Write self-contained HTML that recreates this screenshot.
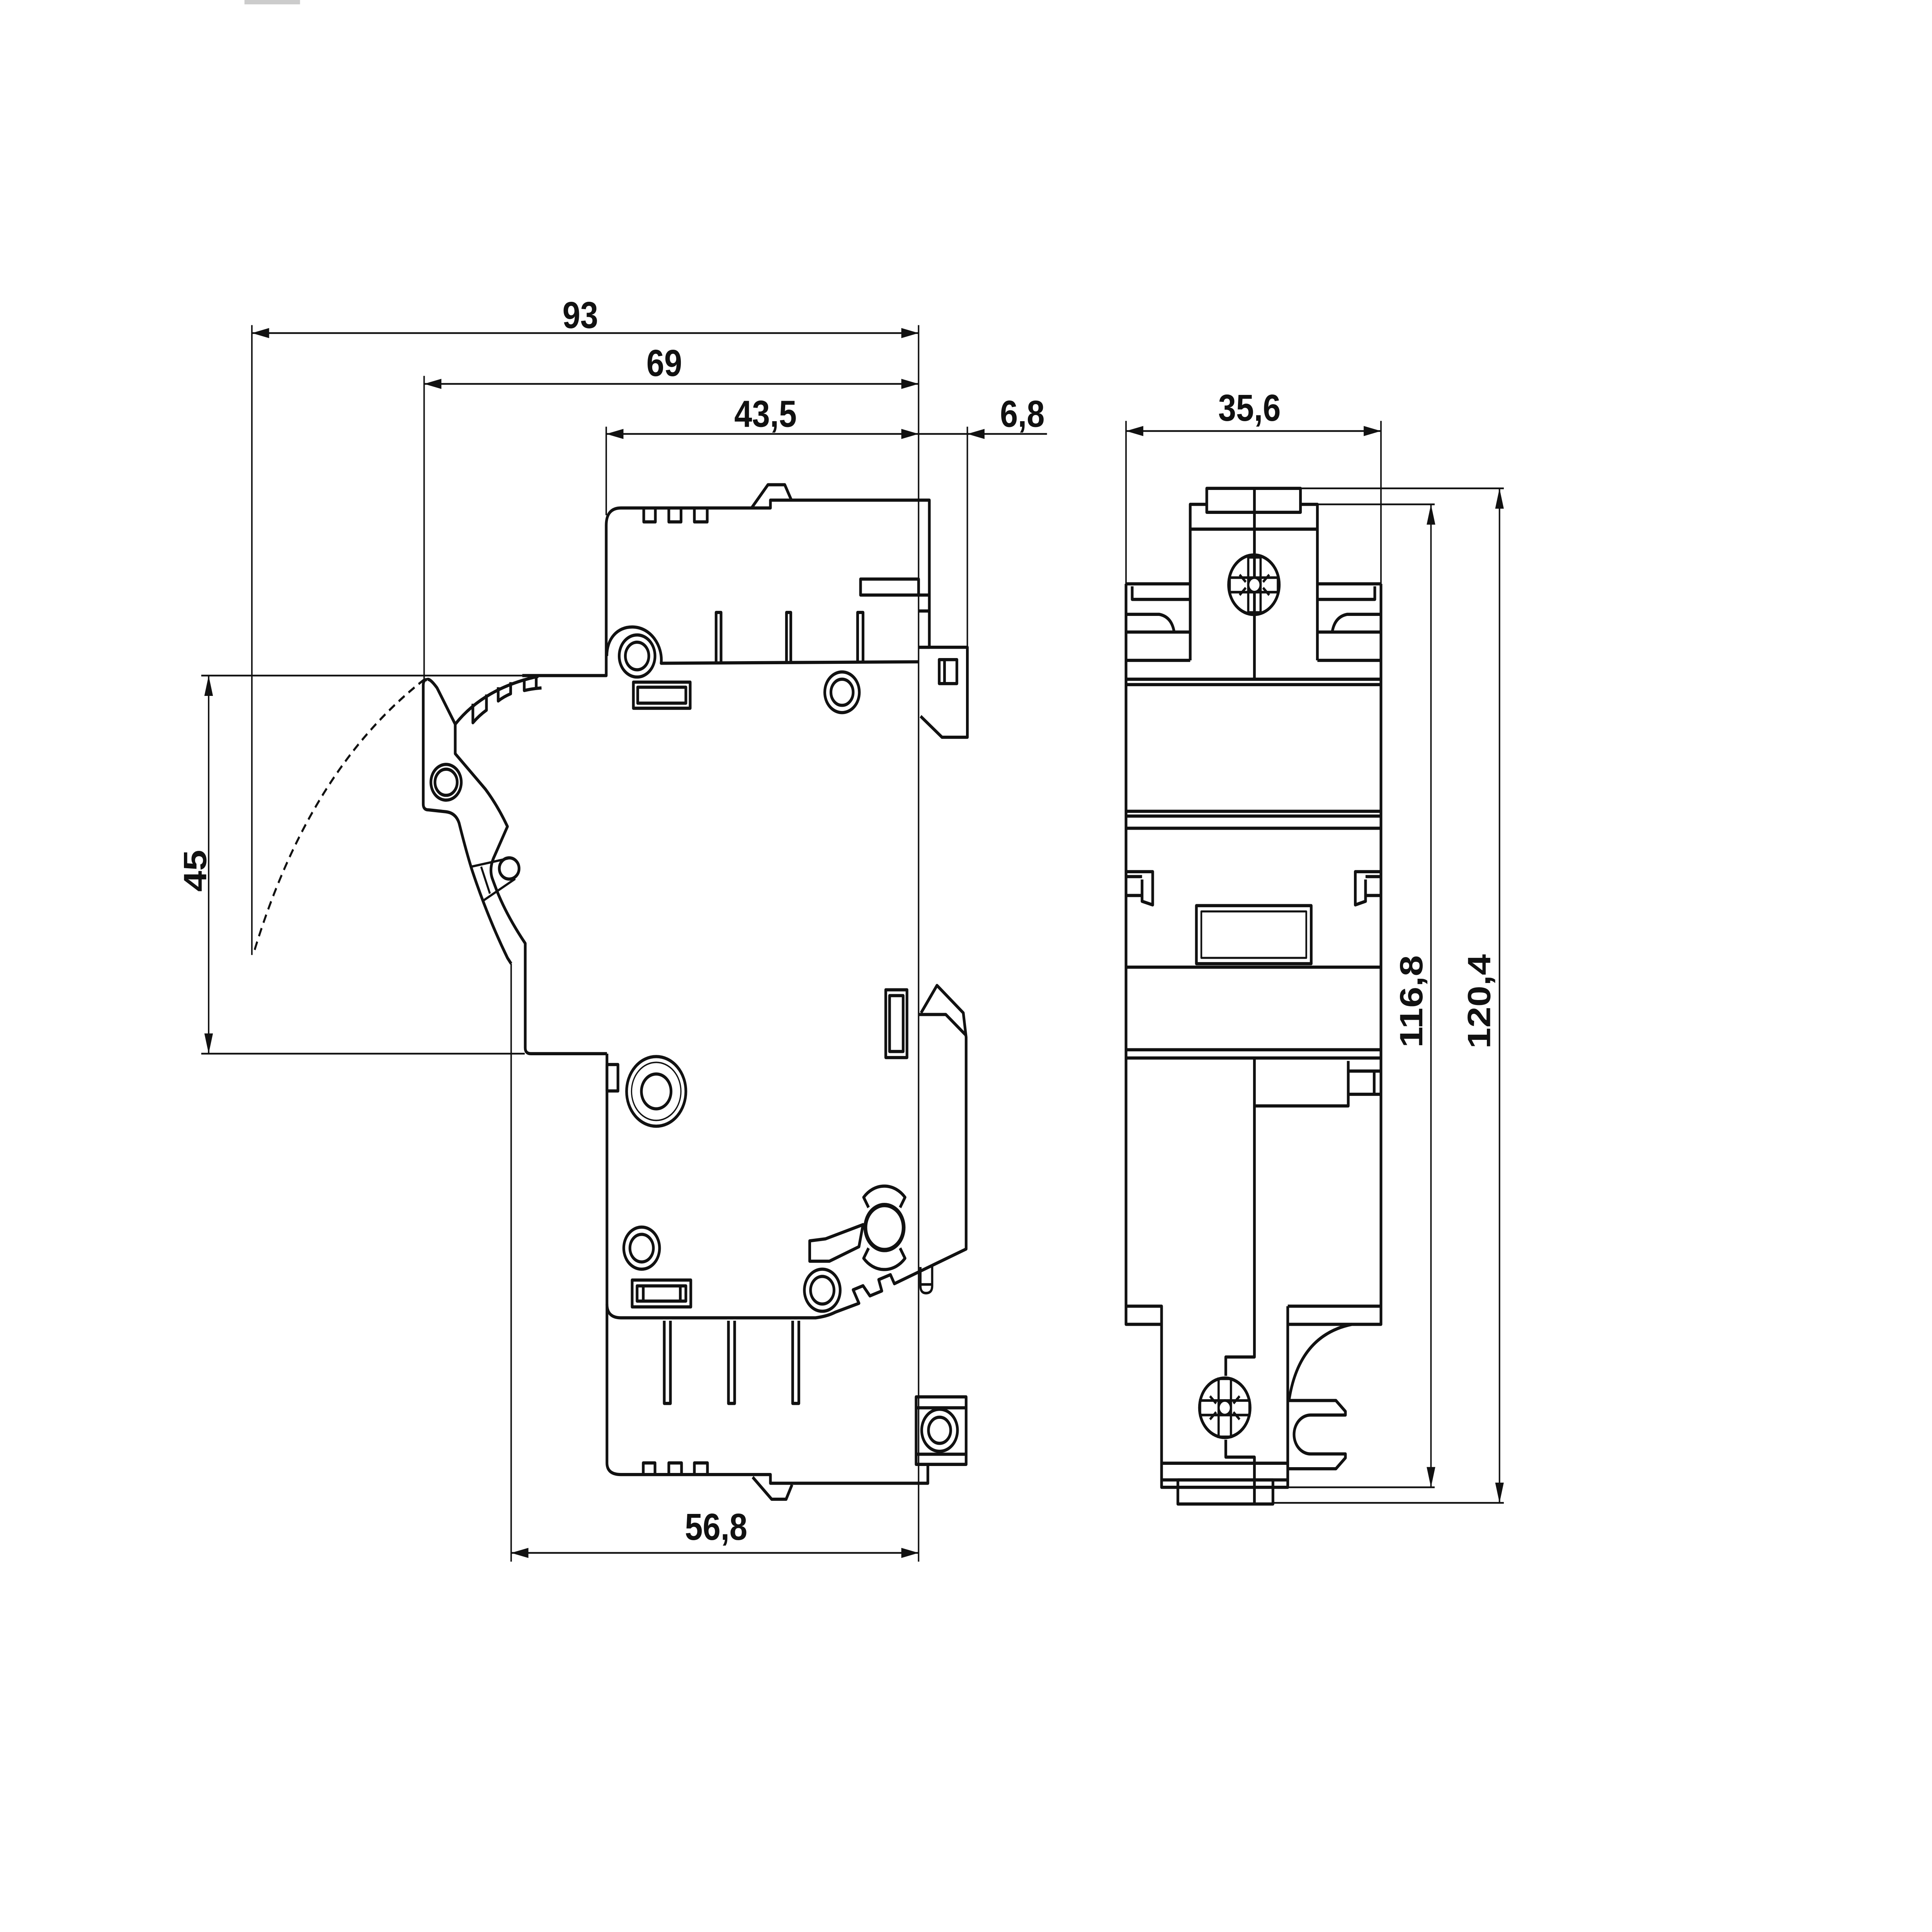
<!DOCTYPE html>
<html><head><meta charset="utf-8"><style>
html,body{margin:0;padding:0;background:#fff;width:100vw;height:100vh;overflow:hidden}
svg{display:block;width:100vw;height:100vh}
text{font-family:"Liberation Sans",sans-serif;font-weight:bold;font-size:26px;fill:#111}
</style></head><body>
<svg viewBox="0 0 1564.8 1331.2" preserveAspectRatio="none" xmlns="http://www.w3.org/2000/svg">
<defs>
<marker id="a" viewBox="0 0 14 7" refX="14" refY="3.5" markerWidth="14" markerHeight="7" markerUnits="userSpaceOnUse" orient="auto-start-reverse"><path d="M0,0 L14,3.5 L0,7 Z" fill="#111"/></marker>
</defs>
<rect x="198" y="0" width="45" height="3" fill="#ccc"/>
<g fill="none" stroke="#111" stroke-width="1.2">
<line x1="204" y1="229.5" x2="744" y2="229.5" marker-start="url(#a)" marker-end="url(#a)"/>
<line x1="343.5" y1="264.5" x2="744" y2="264.5" marker-start="url(#a)" marker-end="url(#a)"/>
<line x1="491" y1="299" x2="744" y2="299" marker-start="url(#a)" marker-end="url(#a)"/>
<line x1="744" y1="299" x2="785" y2="299"/>
<line x1="848" y1="299" x2="783.5" y2="299" marker-end="url(#a)"/>
<line x1="204" y1="224" x2="204" y2="658"/>
<line x1="343.5" y1="259" x2="343.5" y2="468"/>
<line x1="491" y1="294" x2="491" y2="355"/>
<line x1="744" y1="224" x2="744" y2="1076"/>
<line x1="783.5" y1="294" x2="783.5" y2="447"/>
<line x1="169" y1="465.5" x2="169" y2="726" marker-start="url(#a)" marker-end="url(#a)"/>
<line x1="163" y1="465.5" x2="423" y2="465.5"/>
<line x1="163" y1="726" x2="425" y2="726"/>
<line x1="414" y1="1076" x2="414" y2="664"/>
<line x1="414" y1="1070" x2="744" y2="1070" marker-start="url(#a)" marker-end="url(#a)"/>
<path d="M344,468 Q250,530 205,658" stroke-width="1.6" stroke-dasharray="6,4"/>
<line x1="912" y1="297" x2="1118.5" y2="297" marker-start="url(#a)" marker-end="url(#a)"/>
<line x1="912" y1="290" x2="912" y2="404"/>
<line x1="1118.5" y1="290" x2="1118.5" y2="404"/>
<line x1="1053" y1="336.5" x2="1218" y2="336.5"/>
<line x1="1067" y1="347.5" x2="1162" y2="347.5"/>
<line x1="1043" y1="1024.8" x2="1162" y2="1024.8"/>
<line x1="1031" y1="1035.5" x2="1218" y2="1035.5"/>
<line x1="1159" y1="347.5" x2="1159" y2="1024.8" marker-start="url(#a)" marker-end="url(#a)"/>
<line x1="1214.5" y1="336.5" x2="1214.5" y2="1035.5" marker-start="url(#a)" marker-end="url(#a)"/>
</g>
<g font-size="26">
<text x="470" y="226" text-anchor="middle">93</text>
<text x="538" y="259" text-anchor="middle">69</text>
<text x="620" y="294" text-anchor="middle">43,5</text>
<text x="828" y="294" text-anchor="middle">6,8</text>
<text x="580" y="1061" text-anchor="middle">56,8</text>
<text x="1012" y="290" text-anchor="middle">35,6</text>
<text transform="translate(167,600) rotate(-90)" text-anchor="middle">45</text>
<text transform="translate(1152,690) rotate(-90)" text-anchor="middle">116,8</text>
<text transform="translate(1207,690) rotate(-90)" text-anchor="middle">120,4</text>
</g>
<g fill="none" stroke="#111" stroke-width="2.2" stroke-linejoin="round">
<path d="M423,465.5 L491,465.5 L491,362 Q491,350 503,350 L624,350 L624,344.6 L752.7,344.6 L752.7,446 L744,446"/>
<path d="M608.7,350 L622,334 L635.6,334 L641,344.6"/>
<path d="M521.4,350 V359.6 H530.8 V350 M541.7,350 V359.6 H551.6 V350 M562.4,350 V359.6 H572.8 V350"/>
<path d="M697,399 H744 V410 H697 Z M744,410 H752.7 M744,421 H752.7"/>
<path d="M580,456 V422 H584 V456 M637,456 V422 H640.5 V456 M694.6,456 V422 H699 V456"/>
<path d="M491.5,452 C491.5,440 500,432 512,432 C527,432 537,445 535.5,457 L744,456"/>
<circle cx="516" cy="452" r="14.5"/><circle cx="516" cy="452" r="9.5"/>
<path d="M744,446 L783.5,446 L783.5,508 L763,508 L745.6,493.5"/>
<rect x="760.7" y="454.5" width="14.3" height="16.5"/><line x1="765" y1="454.5" x2="765" y2="471"/>
<rect x="513" y="470" width="46" height="18"/><rect x="516.5" y="473.5" width="39" height="11"/>
<circle cx="682" cy="477" r="14"/><circle cx="682" cy="477" r="9"/>
<path d="M368.7,499 Q392,474 436,466"/>
<path d="M383,484.9 V498 Q388,493 394,489.3 V478.5 M403.5,473.5 V483 Q408,480 413.6,478 V470 M424.6,467.5 V475.8 Q431,474.5 438.6,474 M434.3,466 V474"/>
<path d="M345.9,468.3 Q343,468 342.8,472 L342.8,554 Q342.8,558 347,558 L361,559.3 Q369,560 371.8,567 Q378,588 382.5,600 Q395,632 411,660 L414,664"/>
<path d="M345.9,468.3 Q348,467 354,474 L368.7,499 L368.7,519.3 L393,543.6 Q403,555 411,569.5 L400.4,590 Q396,598 398.6,605 Q402,613 404,617 Q412,633 425.4,650 L425.4,722 Q425.4,726 430,726 L491.6,726"/>
<circle cx="361.3" cy="539" r="12.3"/><circle cx="361.3" cy="539" r="9"/>
<ellipse cx="412.4" cy="598.4" rx="8" ry="7.3"/>
<path d="M381.6,597.2 L412,591.4 M391,620.8 L417.3,605.5 M389.7,597.2 L396.8,615.7" stroke-width="1.6"/>
<path d="M491.6,726 L491.6,1008 Q491.6,1016 503,1016 L624,1016 L624,1022 L751.5,1022 L751.5,1009"/>
<rect x="491.6" y="733.5" width="8.9" height="18.2"/>
<circle cx="531.5" cy="752" r="24"/><circle cx="531.5" cy="752" r="20" stroke-width="1"/><circle cx="531.5" cy="752" r="12"/>
<path d="M491.6,898.5 Q491.6,908 502.8,908 L660.6,908 Q670,907 676.6,904.1 L695.7,898 L691,888.7 L699,885.9 L704.6,892.9 L714.2,889.5 L711.7,881.7 L721.2,878.3 L724.4,884.5 L782.5,860.6 L782.5,714.7 L780.2,697.9 L758.9,679 L746,697.9"/>
<path d="M744,699 L766,699 L782,713"/>
<path d="M745.5,873 V886 Q745.5,891 750,891 Q755,891 755,886 V872 M745.5,885 H755" stroke-width="1.8"/>
<rect x="717.4" y="682" width="17.2" height="46.7"/><rect x="720.5" y="686" width="11" height="38.5"/>
<circle cx="519.7" cy="860" r="14.5"/><circle cx="519.7" cy="860" r="9.5"/>
<rect x="512" y="882" width="47.5" height="18.5"/><rect x="516" y="886" width="39.5" height="10.5"/>
<line x1="521" y1="886" x2="521" y2="896.5"/><line x1="551" y1="886" x2="551" y2="896.5"/>
<circle cx="666" cy="889" r="14.5"/><circle cx="666" cy="889" r="9.5"/>
<circle cx="716.4" cy="845.8" r="15.5" stroke-width="3"/>
<path d="M703.5,832 L699.5,825 A22,22 0 0 1 733,825 L729,832 M703.5,860 L699.5,867 A22,22 0 0 0 733,867 L729,860"/>
<path d="M655.8,855 L668.6,853.6 L699,843.8 L695.7,859 L671.8,869 L655.8,869 Z"/>
<path d="M538,910 V967 H543 V910 M590,910 V967 H595 V910 M642,910 V967 H647 V910"/>
<path d="M521,1016 V1008 H530.5 V1016 M541.7,1016 V1008 H552 V1016 M562.4,1016 V1008 H573 V1016"/>
<path d="M609.6,1017.8 L625,1033 L636.7,1033 L641.5,1023"/>
<rect x="742" y="962.5" width="40.5" height="46.5"/>
<path d="M742,970 H782.5 M742,1002 H782.5"/>
<circle cx="761" cy="985.5" r="14.5"/><circle cx="761" cy="985.5" r="9"/>
<rect x="977.4" y="336.5" width="75.9" height="16.5"/>
<path d="M964,455 L964,347.5 L977.4,347.5 M1053.3,347.5 L1067,347.5 L1067,455 M964,364.6 H1067"/>
<line x1="1016" y1="336.5" x2="1016" y2="469"/>
<path d="M912,402.3 H964 M1067,402.3 H1118.5 M917,404 V413 H964 M1113.5,404 V413 H1067"/>
<path d="M912,423.3 H939 Q949,425 951,435.5 M1118.5,423.3 H1091 Q1081,425 1079,435.5 M912,435.5 H964 M1067,435.5 H1118.5"/>
<path d="M912,402.3 V912.5 H940.8 M1118.5,402.3 V912.5 H1043"/>
<path d="M912,455 H964 M1067,455 H1118.5 M912,468 H1118.5 M912,471.7 H1118.5 M912,559 H1118.5 M912,562.3 H1118.5 M912,570.7 H1118.5 M912,666.4 H1118.5 M912,723.3 H1118.5 M912,729 H1118.5"/>
<path d="M913,600.6 H933.6 V623.5 L925,621 L925,606 M913,604 H925 M913,617 H925"/>
<path d="M1117.5,600.6 H1097.7 V623.5 L1106,621 L1106,606 M1117.5,604 H1106 M1117.5,617 H1106"/>
<rect x="969" y="624" width="93" height="40"/><rect x="973" y="628" width="85" height="32" stroke-width="1.4"/>
<circle cx="1015.6" cy="402.9" r="20.5"/>
<path d="M1016,729 V935 H992.8 V948 M992.8,992 V1004 H1016 V1036.3" />
<path d="M1092,731 V762 H1016 M1092,762 V754 H1117.5 M1092,731 V738 H1117.5 M1113,738 V754"/>
<path d="M912,900 H940.8 V1024.8 H1043 V900 M1043,900 H1118.5 M1043,912.5 V965"/>
<circle cx="992" cy="970" r="20.5"/>
<path d="M1095,912.5 Q1052,920 1044,965 M1043,965 H1082 L1089.7,972.5 L1089.7,975 H1061.5 A13.4,13.4 0 0 0 1061.5,1001.8 H1089.7 V1004.5 L1082,1012 H1043"/>
<path d="M940.8,1008.2 H1043 M940.8,1019.7 H1043"/>
<rect x="954" y="1019.7" width="77" height="16.6"/>
</g>
<g fill="none" stroke="#111" stroke-width="1.8">
<path d="M996,398 H1035 V408 H996 Z M1011,384 V422 H1021 V384 Z M1004,396 L1009,401 M1028,396 L1023,401 M1004,410 L1009,405 M1028,410 L1023,405"/>
<circle cx="1016" cy="403" r="5" fill="#fff"/>
<path d="M972,965 H1012 V975 H972 Z M987,950 V990 H997 V950 Z M980,962 L985,967 M1004,962 L999,967 M980,978 L985,973 M1004,978 L999,973"/>
<circle cx="992" cy="970" r="5" fill="#fff"/>
</g>
</svg>
</body></html>
